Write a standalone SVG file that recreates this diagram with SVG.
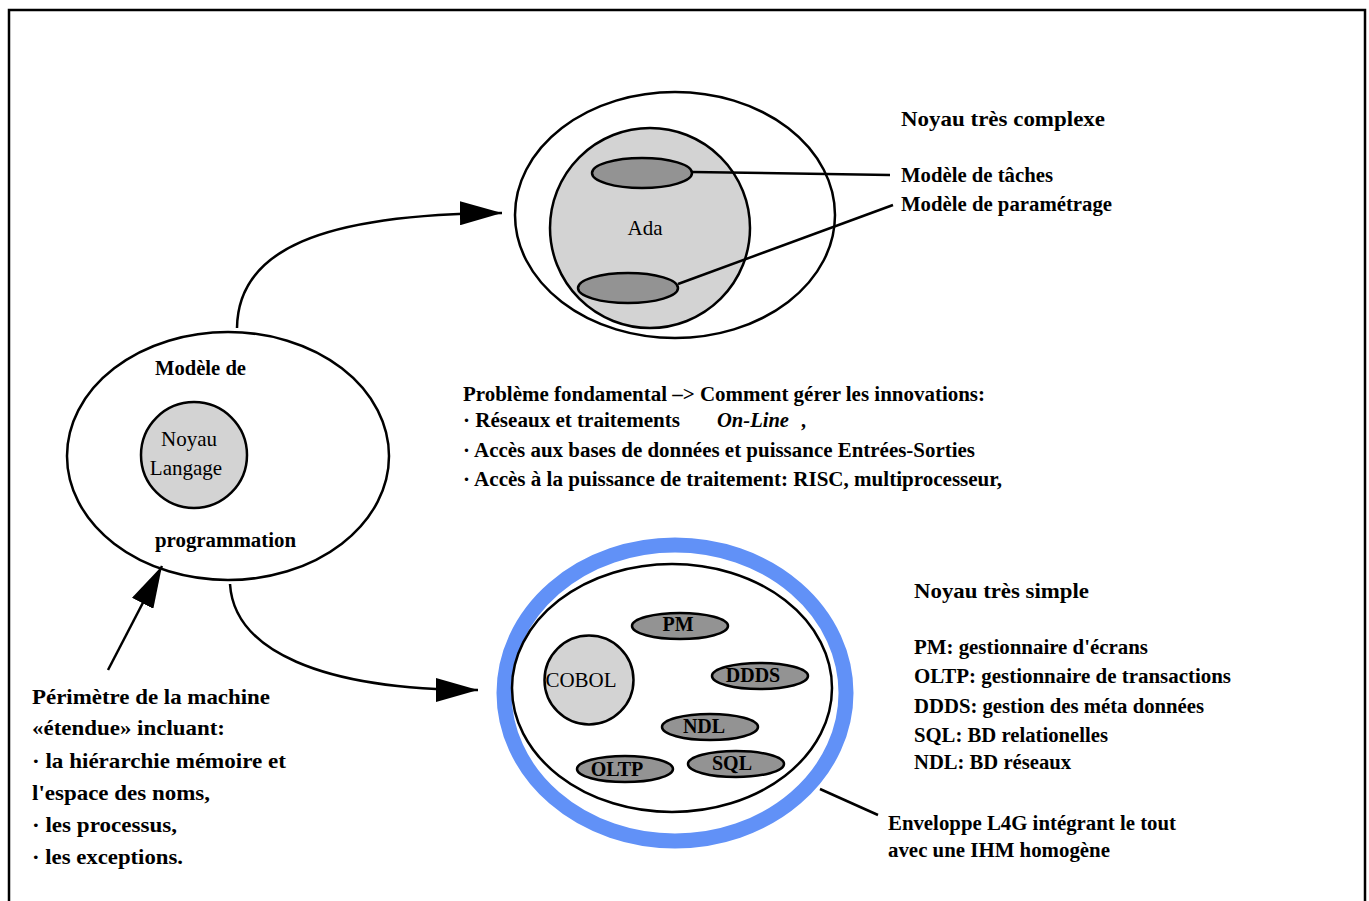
<svg xmlns="http://www.w3.org/2000/svg" width="1369" height="901" viewBox="0 0 1369 901">
  <defs>
    <marker id="arrow" viewBox="0 0 42 24" refX="42" refY="12" markerWidth="42" markerHeight="24" markerUnits="userSpaceOnUse" orient="auto">
      <path d="M0,0 L42,12 L0,24 Z" fill="#000"/>
    </marker>
    <style>
      .ln { fill: none; stroke: #000; stroke-width: 2.5; }
      .shell { fill: #fff; stroke: #000; stroke-width: 2.5; }
      .core { fill: #d3d3d3; stroke: #000; stroke-width: 2.5; }
      .mod { fill: #939393; stroke: #000; stroke-width: 2.5; }
      .ring { fill: none; stroke: #6191f7; stroke-width: 15; }
      text { font-family: "Liberation Serif", "Times New Roman", serif; fill: #000; }
      .b { font-weight: bold; font-size: 20px; }
      .h { font-weight: bold; font-size: 22px; }
      .bl { font-weight: bold; font-size: 22px; }
      .r { font-size: 21px; }
      .t { font-weight: bold; font-size: 20px; text-anchor: middle; }
    </style>
  </defs>

  <!-- page frame -->
  <rect x="9" y="10" width="1356" height="920" fill="#fff" stroke="#000" stroke-width="2.5"/>

  <!-- programming model -->
  <g id="node-modele">
    <ellipse class="shell" cx="228" cy="456" rx="161" ry="124"/>
    <text class="b" x="155" y="375" textLength="91" lengthAdjust="spacingAndGlyphs">Modèle de</text>
    <text class="b" x="155" y="547" textLength="141" lengthAdjust="spacingAndGlyphs">programmation</text>
  </g>
  <g id="node-noyau-langage">
    <circle class="core" cx="194" cy="455" r="53"/>
    <text class="r" x="189" y="446" text-anchor="middle">Noyau</text>
    <text class="r" x="186" y="475" text-anchor="middle">Langage</text>
  </g>

  <!-- complex kernel: Ada -->
  <g id="node-ada-env">
    <ellipse class="shell" cx="675" cy="215" rx="160" ry="123"/>
  </g>
  <g id="node-ada">
    <circle class="core" cx="650" cy="228" r="100"/>
    <text class="r" x="645" y="235" text-anchor="middle">Ada</text>
  </g>
  <g id="node-taches">
    <ellipse class="mod" cx="642" cy="173" rx="50" ry="15"/>
  </g>
  <g id="node-parametrage">
    <ellipse class="mod" cx="628" cy="288" rx="50" ry="15"/>
  </g>
  <g id="labels-complexe">
    <text class="h" x="901" y="126" textLength="204" lengthAdjust="spacingAndGlyphs">Noyau très complexe</text>
    <text class="b" x="901" y="182" textLength="152" lengthAdjust="spacingAndGlyphs">Modèle de tâches</text>
    <text class="b" x="901" y="211" textLength="211" lengthAdjust="spacingAndGlyphs">Modèle de paramétrage</text>
  </g>

  <!-- central problem statement -->
  <g id="text-probleme">
    <text class="b" x="463" y="401" textLength="522" lengthAdjust="spacingAndGlyphs">Problème fondamental –&gt; Comment gérer les innovations:</text>
    <text class="b" x="463" y="427" textLength="217" lengthAdjust="spacingAndGlyphs">· Réseaux et traitements</text>
    <text class="b" x="717" y="427" font-style="italic" textLength="72" lengthAdjust="spacingAndGlyphs">On-Line</text>
    <text class="b" x="801" y="427">,</text>
    <text class="b" x="463" y="457" textLength="512" lengthAdjust="spacingAndGlyphs">· Accès aux bases de données et puissance Entrées-Sorties</text>
    <text class="b" x="463" y="486" textLength="539" lengthAdjust="spacingAndGlyphs">· Accès à la puissance de traitement: RISC, multiprocesseur,</text>
  </g>

  <!-- simple kernel with L4G envelope -->
  <g id="node-l4g">
    <ellipse class="ring" cx="675" cy="693" rx="171" ry="148"/>
    <ellipse class="shell" cx="672" cy="688" rx="160" ry="124"/>
  </g>
  <g id="node-cobol">
    <circle class="core" cx="589" cy="680" r="44.5"/>
    <text class="r" x="581" y="687" text-anchor="middle">COBOL</text>
  </g>
  <g id="node-pm">
    <ellipse class="mod" cx="680" cy="626" rx="48" ry="13"/>
    <text class="t" x="678" y="631">PM</text>
  </g>
  <g id="node-ddds">
    <ellipse class="mod" cx="760" cy="676" rx="48" ry="13"/>
    <text class="t" x="753" y="682">DDDS</text>
  </g>
  <g id="node-ndl">
    <ellipse class="mod" cx="710" cy="727" rx="48" ry="13"/>
    <text class="t" x="704" y="733">NDL</text>
  </g>
  <g id="node-oltp">
    <ellipse class="mod" cx="625" cy="769" rx="48" ry="13"/>
    <text class="t" x="617" y="776">OLTP</text>
  </g>
  <g id="node-sql">
    <ellipse class="mod" cx="736" cy="764" rx="48" ry="13"/>
    <text class="t" x="732" y="770">SQL</text>
  </g>
  <g id="labels-simple">
    <text class="h" x="914" y="598" textLength="175" lengthAdjust="spacingAndGlyphs">Noyau très simple</text>
    <text class="b" x="914" y="654" textLength="234" lengthAdjust="spacingAndGlyphs">PM: gestionnaire d'écrans</text>
    <text class="b" x="914" y="683" textLength="317" lengthAdjust="spacingAndGlyphs">OLTP: gestionnaire de transactions</text>
    <text class="b" x="914" y="713" textLength="290" lengthAdjust="spacingAndGlyphs">DDDS: gestion des méta données</text>
    <text class="b" x="914" y="742" textLength="194" lengthAdjust="spacingAndGlyphs">SQL: BD relationelles</text>
    <text class="b" x="914" y="769" textLength="157" lengthAdjust="spacingAndGlyphs">NDL: BD réseaux</text>
    <text class="b" x="888" y="830" textLength="288" lengthAdjust="spacingAndGlyphs">Enveloppe L4G intégrant le tout</text>
    <text class="b" x="888" y="857" textLength="222" lengthAdjust="spacingAndGlyphs">avec une IHM homogène</text>
  </g>

  <!-- extended machine perimeter -->
  <g id="text-perimetre">
    <text class="bl" x="32" y="704" textLength="238" lengthAdjust="spacingAndGlyphs">Périmètre de la machine</text>
    <text class="bl" x="32" y="735" textLength="193" lengthAdjust="spacingAndGlyphs">«étendue» incluant:</text>
    <text class="bl" x="32" y="768" textLength="254" lengthAdjust="spacingAndGlyphs">· la hiérarchie mémoire et</text>
    <text class="bl" x="32" y="800" textLength="178" lengthAdjust="spacingAndGlyphs">l'espace des noms,</text>
    <text class="bl" x="32" y="832" textLength="145" lengthAdjust="spacingAndGlyphs">· les processus,</text>
    <text class="bl" x="32" y="864" textLength="151" lengthAdjust="spacingAndGlyphs">· les exceptions.</text>
  </g>

  <!-- connectors, drawn over the shapes -->
  <g id="connectors">
    <path class="ln" d="M237,328 C238,250 320,214 502,213" marker-end="url(#arrow)"/>
    <path class="ln" d="M230,584 C234,650 320,690 478,690" marker-end="url(#arrow)"/>
    <path class="ln" d="M108,670 L162,566" marker-end="url(#arrow)"/>
    <path class="ln" d="M692,172 L890,175"/>
    <path class="ln" d="M678,284 L893,205"/>
    <path class="ln" d="M820,789 L878,815"/>
  </g>
</svg>
